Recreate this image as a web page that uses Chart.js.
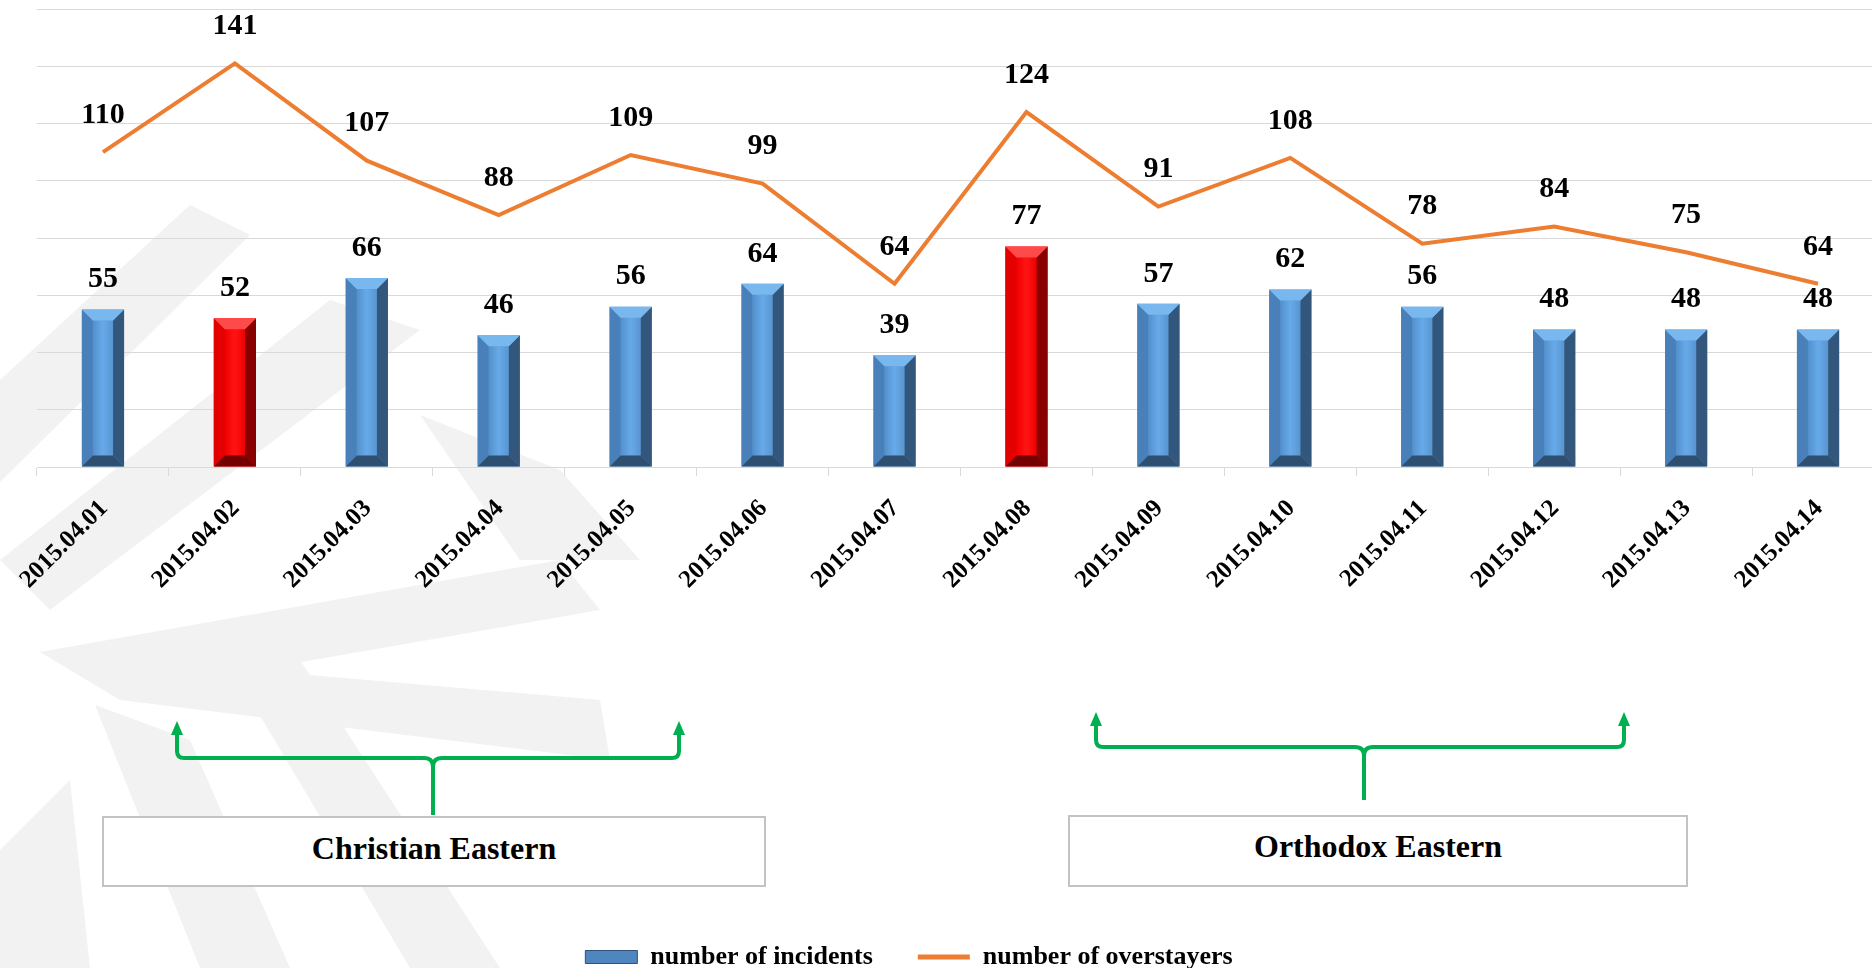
<!DOCTYPE html>
<html>
<head>
<meta charset="utf-8">
<script src="https://cdn.jsdelivr.net/npm/chart.js@4.4.1/dist/chart.umd.min.js"></script>
<style>
  html, body { margin: 0; padding: 0; background: #fff; overflow: hidden; }
  #stage { position: relative; width: 1884px; height: 968px; }
  #mark, #notes { position: absolute; left: 0; top: 0; }
  #chartBox { position: absolute; left: 0; top: 0; width: 1884px; height: 968px; }
  .note {
    position: absolute; box-sizing: border-box; border: 2px solid #c3c3c3; background: #fff;
    font: bold 32px "Liberation Serif", "Times New Roman", serif; color: #000; text-align: center;
  }
</style>
</head>
<body>
<div id="stage">
  <svg id="mark" width="1884" height="968">
    <g fill="#f2f2f2">
      <polygon points="0,380 190,205 250,235 0,482"/>
      <polygon points="0,560 330,300 420,330 50,610"/>
      <polygon points="420,415 560,470 640,560 520,560"/>
      <polygon points="40,652 560,560 600,610 140,690"/>
      <polygon points="40,652 600,700 610,760 120,700"/>
      <polygon points="95,705 190,740 290,968 200,968"/>
      <polygon points="215,640 300,660 500,968 410,968"/>
      <polygon points="0,850 70,780 90,968 0,968"/>
    </g>
  </svg>
  <div id="chartBox"><canvas id="chart"></canvas></div>
  <svg id="notes" width="1884" height="968">
    <g fill="none" stroke="#00b050" stroke-width="4" stroke-linejoin="round">
      <path d="M177,731 L177,751 Q177,758 184,758 L424,758 Q433,758 433,767 L433,815"/>
      <path d="M433,767 Q433,758 442,758 L672,758 Q679,758 679,751 L679,731"/>
      <path d="M1096,722 L1096,740 Q1096,747 1103,747 L1355,747 Q1364,747 1364,756 L1364,800"/>
      <path d="M1364,756 Q1364,747 1373,747 L1617,747 Q1624,747 1624,740 L1624,722"/>
    </g>
    <g fill="#00b050">
      <polygon points="171,735 177,721 183,735"/>
      <polygon points="673,735 679,721 685,735"/>
      <polygon points="1090,726 1096,712 1102,726"/>
      <polygon points="1618,726 1624,712 1630,726"/>
    </g>
  </svg>
  <div class="note" style="left:102px; top:816px; width:664px; height:71px; line-height:60px;">Christian Eastern</div>
  <div class="note" style="left:1068px; top:815px; width:620px; height:72px; line-height:58px;">Orthodox Eastern</div>
</div>
<script>
const dates = ['2015.04.01', '2015.04.02', '2015.04.03', '2015.04.04', '2015.04.05', '2015.04.06', '2015.04.07',
  '2015.04.08', '2015.04.09', '2015.04.10', '2015.04.11', '2015.04.12', '2015.04.13', '2015.04.14'];
const incidents = [55, 52, 66, 46, 56, 64, 39, 77, 57, 62, 56, 48, 48, 48];
const overstayers = [110, 141, 107, 88, 109, 99, 64, 124, 91, 108, 78, 84, 75, 64];
const redDays = ['2015.04.02', '2015.04.08'];
const yMin = 0;
const yMax = 160;
const yStep = 20;

const serif = '"Liberation Serif", "Times New Roman", serif';
const blue = { body: ['#5290cc', '#67aae9', '#5895d0'], left: '#4a80b9', right: '#33577c', top: '#78b8ef', bottom: '#2e4f70', fill: '#5b9bd5' };
const red = { body: ['#f00000', '#ff1414', '#ee0000'], left: '#e20000', right: '#890000', top: '#ff4a4a', bottom: '#760000', fill: '#ff0000' };

// bevelled look for the columns, drawn over the bars chart.js placed
const bevel = {
  id: 'bevel',
  afterDatasetDraw(chart, args) {
    if (args.meta.type !== 'bar') return;
    const ctx = chart.ctx;
    args.meta.data.forEach((bar, i) => {
      const p = bar.getProps(['x', 'y', 'base', 'width'], true);
      const pal = redDays.includes(dates[i]) ? red : blue;
      const x0 = p.x - p.width / 2, x1 = p.x + p.width / 2, t = p.y, b = p.base;
      const d = Math.min(11, (b - t) / 3);
      const g = ctx.createLinearGradient(x0 + d, 0, x1 - d, 0);
      g.addColorStop(0, pal.body[0]);
      g.addColorStop(0.5, pal.body[1]);
      g.addColorStop(1, pal.body[2]);
      ctx.save();
      ctx.fillStyle = g;
      ctx.fillRect(x0 + d, t + d, x1 - x0 - 2 * d, b - t - 2 * d);
      const face = (pts, c) => {
        ctx.beginPath();
        ctx.moveTo(pts[0][0], pts[0][1]);
        pts.slice(1).forEach(q => ctx.lineTo(q[0], q[1]));
        ctx.closePath();
        ctx.fillStyle = c;
        ctx.fill();
      };
      face([[x0, t], [x0 + d, t + d], [x0 + d, b - d], [x0, b]], pal.left);
      face([[x1, t], [x1 - d, t + d], [x1 - d, b - d], [x1, b]], pal.right);
      face([[x0, t], [x1, t], [x1 - d, t + d], [x0 + d, t + d]], pal.top);
      face([[x0, b], [x1, b], [x1 - d, b - d], [x0 + d, b - d]], pal.bottom);
      ctx.restore();
    });
  }
};

const valueLabels = {
  id: 'valueLabels',
  afterDatasetsDraw(chart) {
    const ctx = chart.ctx;
    ctx.save();
    ctx.font = 'bold 30px ' + serif;
    ctx.fillStyle = '#000';
    ctx.textAlign = 'center';
    ctx.textBaseline = 'middle';
    chart.data.datasets.forEach((ds, di) => {
      const meta = chart.getDatasetMeta(di);
      const lift = meta.type === 'bar' ? 30 : 37;
      meta.data.forEach((el, i) => ctx.fillText(String(ds.data[i]), el.x, el.y - lift));
    });
    ctx.restore();
  }
};

// move the legend row to where it sits in the picture
const legendSpot = {
  id: 'legendSpot',
  afterLayout(chart) {
    const lg = chart.legend;
    const h = lg.height;
    lg.top = 957 - lg.options.labels.padding - 13;
    lg.bottom = lg.top + h;
    lg.left = 0;
    lg.right = 1818;
  }
};

const ctx = document.getElementById('chart').getContext('2d');
const chart = new Chart(ctx, {
  type: 'bar',
  data: {
    labels: dates,
    datasets: [
      {
        label: 'number of incidents',
        data: incidents,
        backgroundColor: dates.map(d => redDays.includes(d) ? red.fill : blue.fill),
        categoryPercentage: 1,
        barPercentage: 0.32,
      },
      {
        type: 'line',
        label: 'number of overstayers',
        data: overstayers,
        borderColor: '#ed7d31',
        backgroundColor: '#ed7d31',
        borderWidth: 4,
        pointRadius: 0,
        tension: 0,
      },
    ],
  },
  options: {
    responsive: true,
    maintainAspectRatio: false,
    animation: false,
    layout: { padding: { top: 9, right: 0, bottom: 0, left: 0 } },
    plugins: {
      tooltip: { enabled: false },
      legend: {
        position: 'bottom',
        labels: {
          usePointStyle: true,
          pointStyleWidth: 52,
          boxHeight: 13,
          padding: 45,
          color: '#000',
          font: { family: serif, weight: 'bold', size: 26 },
          generateLabels(chart) {
            return chart.data.datasets.map((ds, i) => ({
              text: ds.label,
              datasetIndex: i,
              pointStyle: ds.type === 'line' ? 'line' : 'rect',
              fillStyle: ds.type === 'line' ? '#ed7d31' : '#4f86c0',
              strokeStyle: ds.type === 'line' ? '#ed7d31' : '#2e5278',
              lineWidth: ds.type === 'line' ? 5 : 1,
              fontColor: '#000',
            }));
          },
        },
      },
    },
    scales: {
      x: {
        offset: true,
        grid: { drawOnChartArea: false, drawTicks: true, tickLength: 9, color: '#d9d9d9' },
        border: { color: '#d9d9d9' },
        ticks: {
          autoSkip: false,
          minRotation: 45,
          maxRotation: 45,
          padding: 18,
          labelOffset: 1,
          color: '#000',
          font: { family: serif, weight: 'bold', size: 25 },
        },
        afterFit(scale) {
          scale.height = scale.chart.height - scale.chart.legend.height - 467;
        },
      },
      y: {
        min: yMin,
        max: yMax,
        ticks: { display: false, stepSize: yStep },
        grid: { color: '#d9d9d9', drawTicks: false },
        border: { display: false },
        afterFit(scale) {
          scale.width = 37;
        },
      },
    },
  },
  plugins: [bevel, valueLabels, legendSpot],
});
</script>
</body>
</html>
